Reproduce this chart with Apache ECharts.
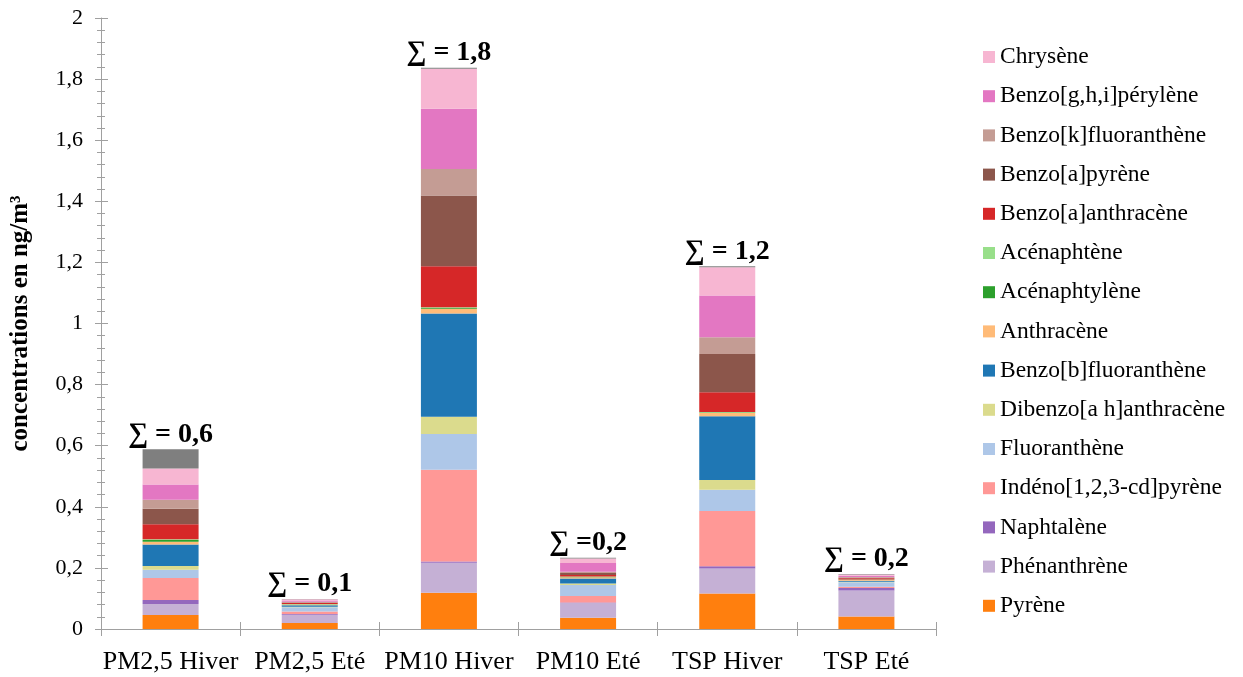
<!DOCTYPE html>
<html><head><meta charset="utf-8">
<script src="https://cdn.jsdelivr.net/npm/echarts@6/dist/echarts.min.js"></script>
<style>html,body{margin:0;padding:0;background:#fff}#c{width:1243px;height:677px}</style>
</head><body><div id="c"></div>
<script>
const categories = ['PM2,5 Hiver','PM2,5 Eté','PM10 Hiver','PM10 Eté','TSP Hiver','TSP Eté'];
const sumLabels = ['∑ = 0,6','∑ = 0,1','∑ = 1,8','∑ =0,2','∑ = 1,2','∑ = 0,2'];
const yTicks = {min:0, max:2, interval:0.2};

// stack order bottom -> top
const pyrene        = [0.046,0.020,0.119,0.037,0.116,0.041];
const phenanthrene  = [0.036,0.027,0.098,0.048,0.082,0.085];
const naphtalene    = [0.013,0.002,0.004,0.002,0.007,0.008];
const indeno        = [0.072,0.008,0.300,0.021,0.181,0.004];
const fluoranthene  = [0.027,0.014,0.117,0.036,0.070,0.015];
const dibenzo       = [0.012,0.002,0.057,0.005,0.032,0.002];
const benzoB        = [0.071,0.005,0.338,0.016,0.208,0.003];
const anthracene    = [0.009,0.002,0.015,0.004,0.011,0.002];
const acenaphtylene = [0.005,0.001,0.003,0.002,0.002,0.001];
const acenaphtene   = [0.003,0.001,0.002,0.001,0.001,0.001];
const benzoAanthr   = [0.049,0.003,0.134,0.005,0.065,0.004];
const benzoApyr     = [0.051,0.002,0.232,0.006,0.125,0.002];
const benzoK        = [0.029,0.002,0.087,0.004,0.055,0.002];
const benzoGHI      = [0.050,0.004,0.197,0.029,0.137,0.004];
const chrysene      = [0.052,0.004,0.131,0.015,0.092,0.004];
const other         = [0.063,0.001,0.003,0.002,0.003,0.002];

const seriesDefs = [
  ['Pyrène', pyrene, '#ff7f0e'],
  ['Phénanthrène', phenanthrene, '#c5b0d5'],
  ['Naphtalène', naphtalene, '#9467bd'],
  ['Indéno[1,2,3-cd]pyrène', indeno, '#ff9896'],
  ['Fluoranthène', fluoranthene, '#aec7e8'],
  ['Dibenzo[a h]anthracène', dibenzo, '#dbdb8d'],
  ['Benzo[b]fluoranthène', benzoB, '#1f77b4'],
  ['Anthracène', anthracene, '#ffbb78'],
  ['Acénaphtylène', acenaphtylene, '#2ca02c'],
  ['Acénaphtène', acenaphtene, '#98df8a'],
  ['Benzo[a]anthracène', benzoAanthr, '#d62728'],
  ['Benzo[a]pyrène', benzoApyr, '#8c564b'],
  ['Benzo[k]fluoranthène', benzoK, '#c49c94'],
  ['Benzo[g,h,i]pérylène', benzoGHI, '#e377c2'],
  ['Chrysène', chrysene, '#f7b6d2'],
  ['Autres', other, '#7f7f7f']
];

const FONT = '"Liberation Serif","Times New Roman",serif';
const axisColor = '#a0a0a0';

const series = seriesDefs.map((d, i) => {
  const s = {
    name: d[0], type: 'bar', stack: 'total', data: d[1],
    barWidth: 56, itemStyle: {color: d[2]},
    emphasis: {disabled: true}
  };
  if (i === seriesDefs.length - 1) {
    s.label = {
      show: true, position: 'top', distance: 1,
      formatter: p => sumLabels[p.dataIndex],
      fontFamily: FONT, fontWeight: 'bold', fontSize: 28, color: '#000'
    };
  }
  return s;
});

const legendNames = seriesDefs.slice(0, 15).map(d => d[0]).reverse();

const chart = echarts.init(document.getElementById('c'), null, {renderer: 'canvas'});
chart.setOption({
  animation: false,
  grid: {left: 100, right: 307, top: 18, bottom: 48, containLabel: false},
  legend: {
    orient: 'vertical', left: 978, top: 40,
    data: legendNames, itemWidth: 12, itemHeight: 12, itemGap: 15.2,
    icon: 'rect', selectedMode: false,
    textStyle: {fontFamily: FONT, fontSize: 23.5, color: '#000', lineHeight: 24}
  },
  xAxis: [
    {type: 'category', data: categories, position: 'bottom',
     axisLine: {lineStyle: {color: axisColor}},
     axisTick: {show: true, length: 7, alignWithLabel: false, lineStyle: {color: axisColor}},
     axisLabel: {fontFamily: FONT, fontSize: 26, color: '#000', margin: 20, interval: 0}},
    {type: 'category', data: categories, position: 'bottom', offset: 0,
     axisLine: {show: false},
     axisTick: {show: true, inside: true, length: 7, alignWithLabel: false, lineStyle: {color: axisColor}},
     axisLabel: {show: false}},
    {type: 'category', data: categories, position: 'bottom', offset: 0,
     axisLine: {show: false},
     axisTick: {show: true, inside: true, length: 6, alignWithLabel: true, lineStyle: {color: axisColor}},
     axisLabel: {show: false}}
  ],
  yAxis: [
    {type: 'value', min: yTicks.min, max: yTicks.max, interval: yTicks.interval, position: 'left',
     name: 'concentrations en ng/m³', nameLocation: 'middle', nameGap: 68, nameRotate: 90,
     nameTextStyle: {fontFamily: FONT, fontSize: 25, fontWeight: 'bold', color: '#000'},
     axisLine: {show: true, lineStyle: {color: axisColor}},
     axisTick: {show: true, length: 6, lineStyle: {color: axisColor}},
     minorTick: {show: true, splitNumber: 5, length: 4, lineStyle: {color: axisColor}},
     splitLine: {show: false},
     axisLabel: {fontFamily: FONT, fontSize: 22, color: '#000', margin: 18,
       formatter: v => String(+v.toFixed(1)).replace('.', ',')}},
    {type: 'value', min: yTicks.min, max: yTicks.max, interval: yTicks.interval, position: 'left', offset: 0,
     axisLine: {show: false},
     axisTick: {show: true, inside: true, length: 7, lineStyle: {color: axisColor}},
     minorTick: {show: true, splitNumber: 5, length: 4, lineStyle: {color: axisColor}},
     splitLine: {show: false}, axisLabel: {show: false}}
  ],
  series: series
});
</script>
</body></html>
